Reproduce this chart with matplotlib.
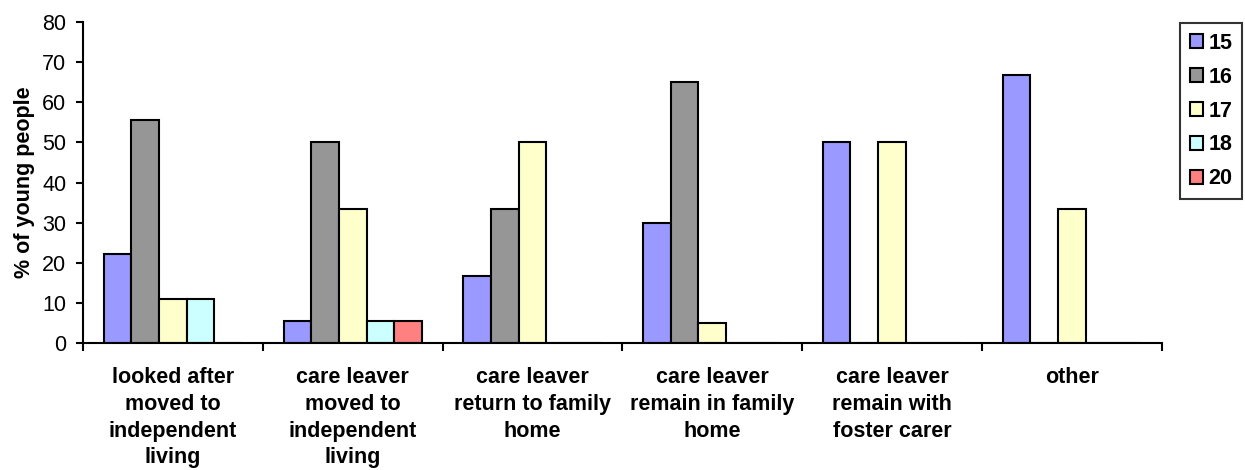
import numpy as np
import matplotlib
matplotlib.use('Agg')
import matplotlib.pyplot as plt

plt.rcParams['font.family'] = ['Liberation Sans', 'DejaVu Sans']

# data
categories = ['looked after\nmoved to\nindependent\nliving',
              'care leaver\nmoved to\nindependent\nliving',
              'care leaver\nreturn to family\nhome',
              'care leaver\nremain in family\nhome',
              'care leaver\nremain with\nfoster carer',
              'other']
ages = ['15', '16', '17', '18', '20']
age15 = [22.2, 5.6, 16.7, 30, 50, 66.7]
age16 = [55.6, 50, 33.3, 65, 0, 0]
age17 = [11.1, 33.3, 50, 5, 50, 33.3]
age18 = [11.1, 5.6, 0, 0, 0, 0]
age20 = [0, 5.6, 0, 0, 0, 0]
series = [age15, age16, age17, age18, age20]
colors = ['#9999FF', '#969696', '#FFFFCC', '#CCFFFF', '#FF8080']

fs = 15.5

fig = plt.figure(figsize=(12.45, 4.7), dpi=100)
ax = fig.add_axes([0.0667, 0.270, 0.8663, 0.683])

x = np.arange(len(categories))
w = 1 / 6.5
for i, vals in enumerate(series):
    ax.bar(x + (i - 2) * w, vals, width=w, color=colors[i], edgecolor='black',
           linewidth=1.5, label=ages[i], zorder=2)

ax.set_xlim(-0.5, len(categories) - 0.5)
ax.set_ylim(0, 80)
ax.set_yticks(np.arange(0, 81, 10))
ax.set_xticks(np.arange(-0.5, len(categories)), labels=[])
ax.set_xticks(x, labels=categories, minor=True)
ax.tick_params(axis='x', which='major', length=6, width=1.5, direction='out')
ax.tick_params(axis='x', which='minor', length=0, pad=17, labelsize=fs)
ax.tick_params(axis='y', length=5, width=1.5, labelsize=fs, pad=7)
for lab in ax.get_xticklabels(minor=True):
    lab.set_fontweight('bold')
    lab.set_linespacing(1.37)
    lab.set_verticalalignment('top')

for s in ['top', 'right']:
    ax.spines[s].set_visible(False)
for s in ['left', 'bottom']:
    ax.spines[s].set_linewidth(1.5)

ax.set_ylabel('% of young people', fontsize=fs, fontweight='bold', labelpad=5)

leg = fig.legend(loc='upper left', bbox_to_anchor=(0.948, 0.951), frameon=True,
                 fancybox=False, edgecolor='black', prop={'weight': 'bold', 'size': fs},
                 handlelength=0.6, handleheight=0.6, handletextpad=0.25,
                 labelspacing=0.6, borderpad=0.45, borderaxespad=0)
leg.get_frame().set_linewidth(1.5)
for h in leg.legend_handles:
    h.set_linewidth(1.5)

fig.savefig('out.png', dpi=100)
